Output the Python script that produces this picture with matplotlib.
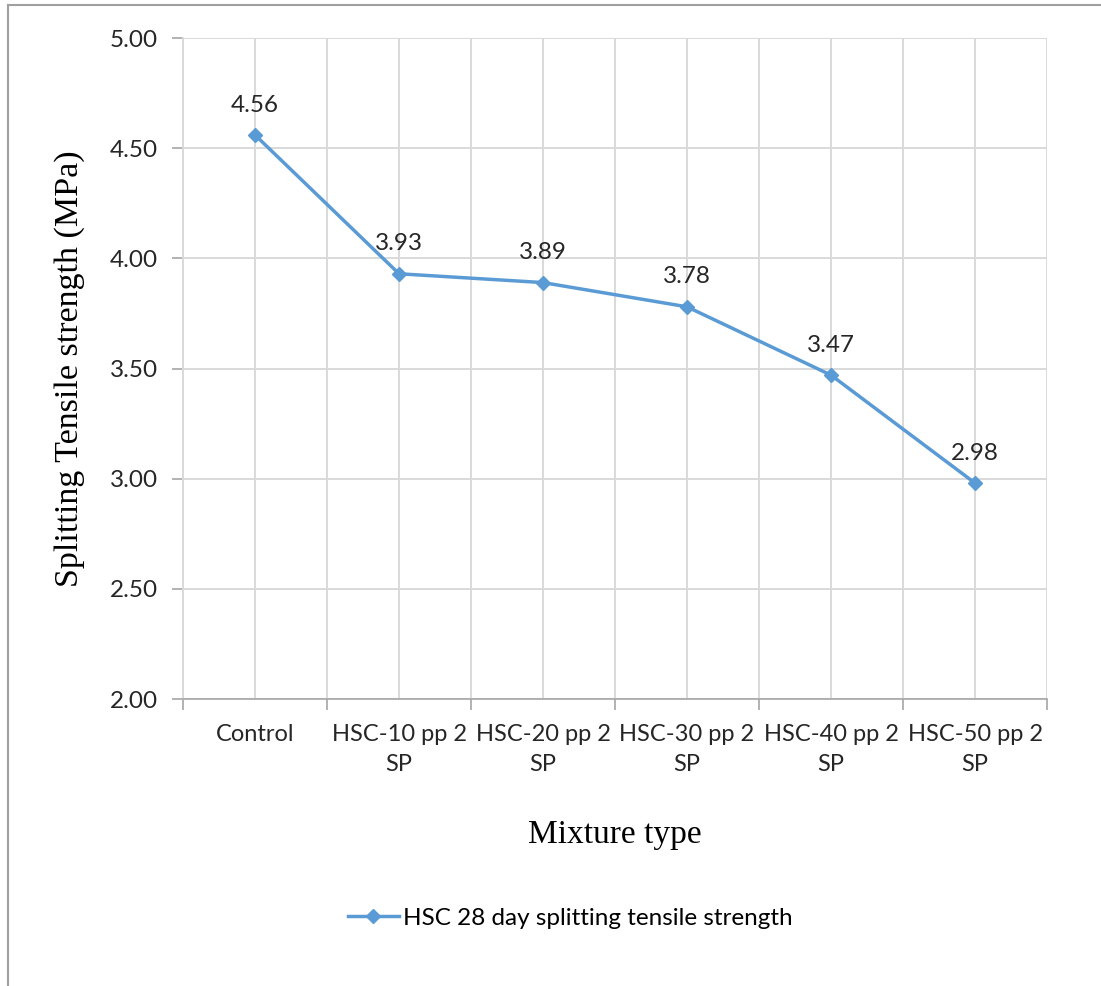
import numpy as np
import matplotlib.pyplot as plt
from matplotlib.lines import Line2D

# Daten
categories = ['Control', 'HSC-10 pp 2\nSP', 'HSC-20 pp 2\nSP', 'HSC-30 pp 2\nSP',
              'HSC-40 pp 2\nSP', 'HSC-50 pp 2\nSP']
strength = [4.56, 3.93, 3.89, 3.78, 3.47, 2.98]
value_labels = ['4.56', '3.93', '3.89', '3.78', '3.47', '2.98']
y_ticks = [2.00, 2.50, 3.00, 3.50, 4.00, 4.50, 5.00]
series_name = 'HSC 28 day splitting tensile strength'

blue = '#5B9BD5'
grid_c = '#D9D9D9'
axis_c = '#A6A6A6'
txt_c = '#262626'
sans = 'Lato'
serif = 'Liberation Serif'

fig = plt.figure(figsize=(11.01, 9.86), dpi=100)
ax = fig.add_axes([183 / 1101, 1 - 699 / 986, 864 / 1101, 661 / 986])

x = np.arange(len(categories))
ax.plot(x, strength, color=blue, linewidth=2.5, marker='D', markersize=7.5,
        zorder=3, clip_on=False)

for xi, yi, lab in zip(x, strength, value_labels):
    ax.annotate(lab, (xi, yi), xytext=(0, 14), textcoords='offset points',
                ha='center', va='bottom', fontsize=17.5, family=sans, color=txt_c)

ax.set_xlim(-0.5, len(categories) - 0.5)
ax.set_ylim(2.0, 5.0)
ax.set_yticks(y_ticks)
ax.set_yticklabels([f'{v:.2f}' for v in y_ticks], fontsize=17.5, family=sans, color=txt_c)
ax.set_xticks(x)
ax.set_xticklabels(categories, fontsize=17, family=sans, color=txt_c, linespacing=1.55)
ax.set_xticks(np.arange(-0.5, len(categories), 1.0), minor=True)

ax.tick_params(axis='x', which='major', length=0, pad=18)
ax.tick_params(axis='x', which='minor', length=8, color=axis_c, width=1.2, direction='out')
ax.tick_params(axis='y', length=8, color=axis_c, width=1.2, pad=10)

# Gitterlinien
ax.grid(True, axis='y', color=grid_c, linewidth=1.4)
ax.grid(True, axis='x', which='both', color=grid_c, linewidth=1.4)
ax.set_axisbelow(True)

for side in ['top', 'right']:
    ax.spines[side].set_visible(False)
ax.spines['left'].set_color(grid_c)
ax.spines['left'].set_linewidth(1.4)
ax.spines['bottom'].set_color(axis_c)
ax.spines['bottom'].set_linewidth(1.2)

ax.set_ylabel('Splitting Tensile strength (MPa)', fontsize=24.5, family=serif, labelpad=18)
ax.set_xlabel('Mixture type', fontsize=24, family=serif, labelpad=32)

handle = Line2D([], [], color=blue, linewidth=2.5, marker='D', markersize=7.5)
fig.legend([handle], [series_name], loc='center', bbox_to_anchor=(0.518, 1 - 918 / 986),
           frameon=False, prop={'family': sans, 'size': 17.5}, handlelength=2.1,
           handletextpad=0.2)

# Rahmen (links und oben)
fig.add_artist(Line2D([8 / 1101, 8 / 1101], [0, 1 - 5 / 986], color='#A0A0A0', linewidth=1.5))
fig.add_artist(Line2D([8 / 1101, 1], [1 - 5 / 986, 1 - 5 / 986], color='#A0A0A0', linewidth=1.5))

fig.savefig('out.png', dpi=100)
